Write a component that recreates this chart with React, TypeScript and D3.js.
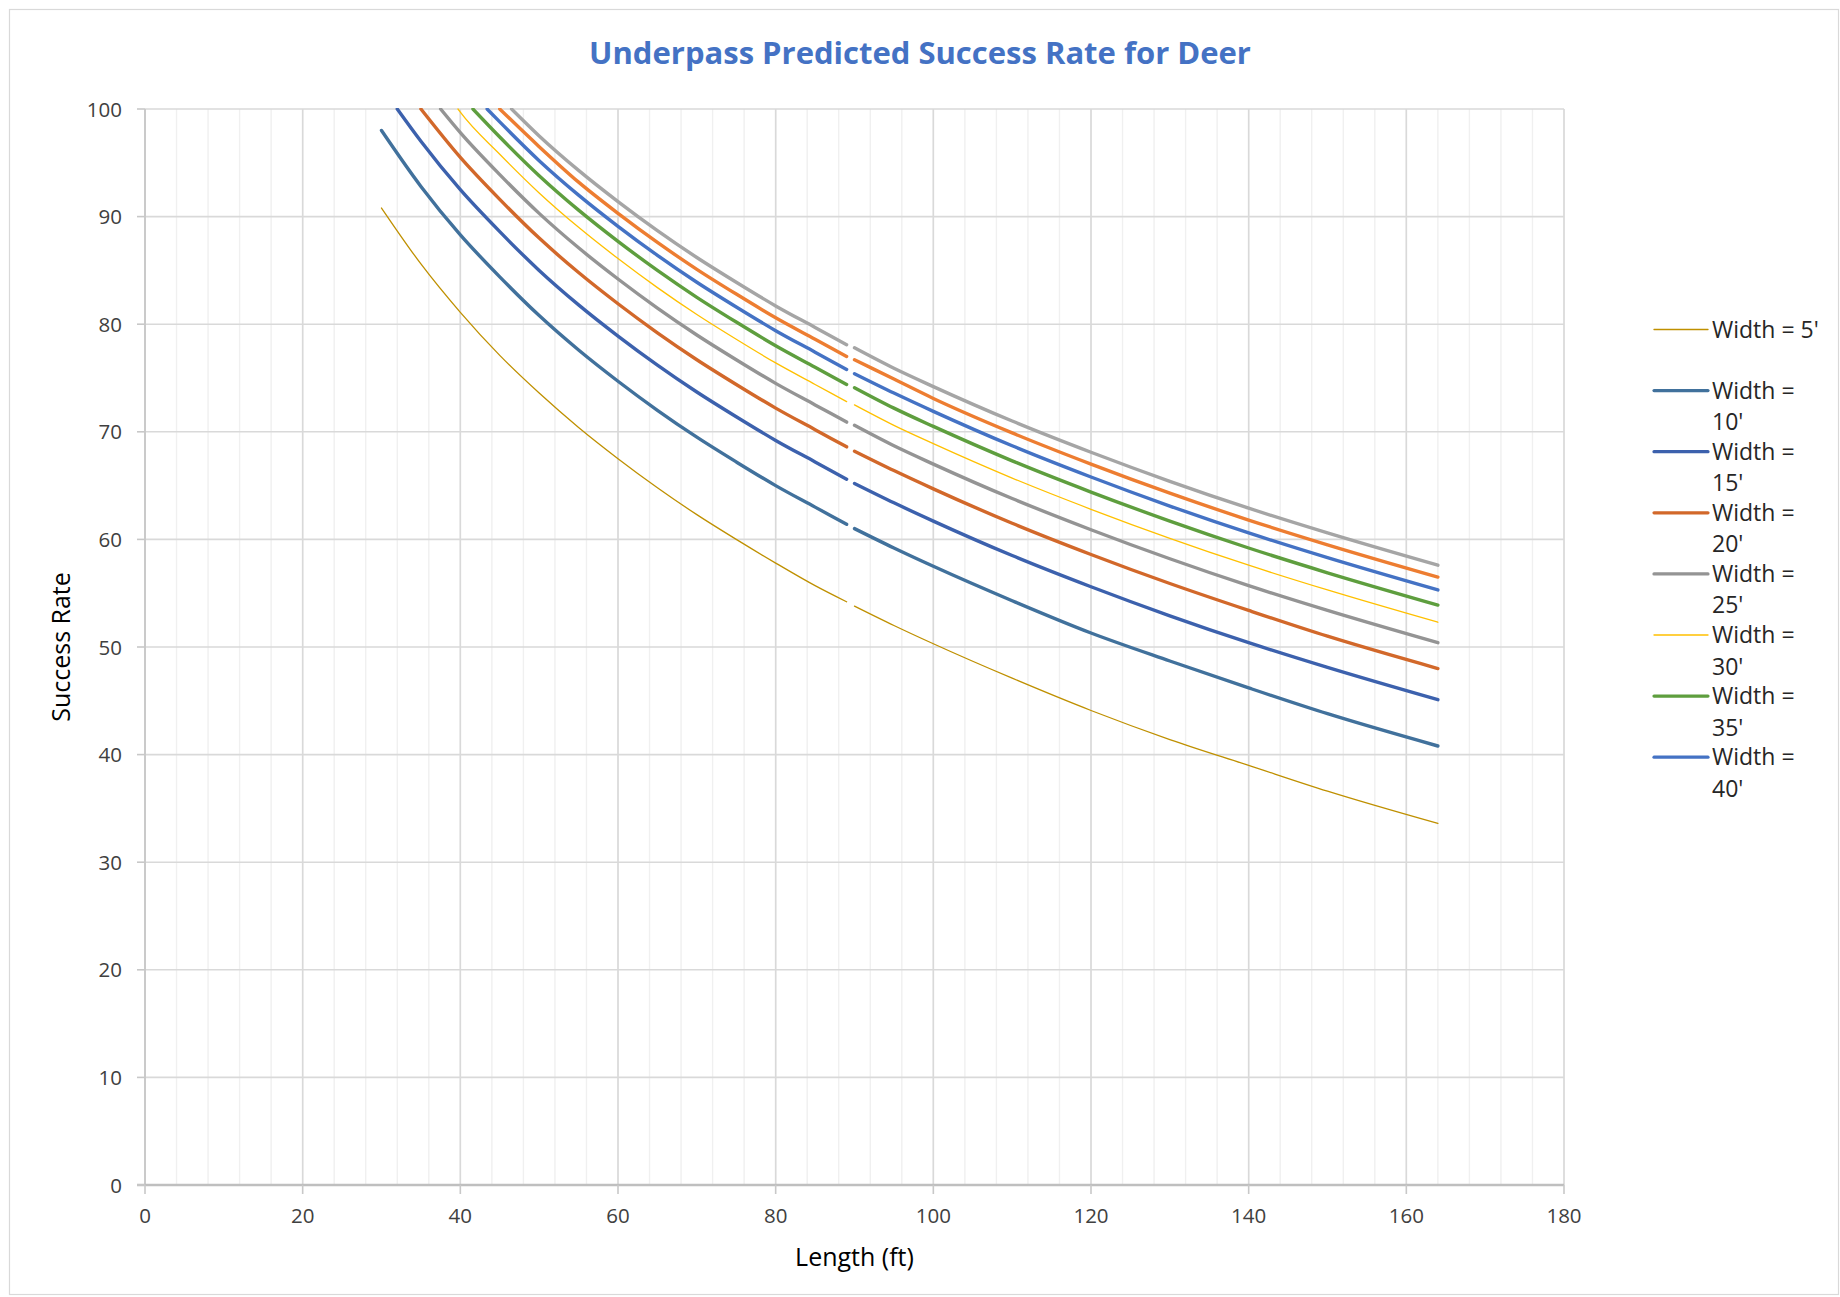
import React from "react";
import * as d3 from "d3";

// Underpass length (ft) sample points; the two runs are drawn as separate segments
const lengthsA = [30, 35, 40, 45, 50, 55, 60, 65, 70, 75, 80, 85, 89];
const lengthsB = [90, 95, 100, 110, 120, 130, 140, 150, 164];

// Underpass widths (ft), one curve each
const widths = [5, 10, 15, 20, 25, 30, 35, 40, 45, 50];

// Length at which a curve enters the plot through the 100 ceiling (null = starts inside)
const entryLengths = [null, null, 32.0, 35.0, 37.5, 39.7, 41.6, 43.4, 45.0, 46.5];

// Success rate (%) per width, first run (null = above 100, off the chart)
const rateA5 = [90.8, 85.6, 81.1, 77.1, 73.6, 70.4, 67.5, 64.8, 62.3, 60.0, 57.8, 55.7, 54.2];
const rateA10 = [98.0, 92.8, 88.3, 84.4, 80.8, 77.6, 74.7, 72.0, 69.5, 67.2, 65.0, 63.0, 61.4];
const rateA15 = [null, 97.0, 92.5, 88.6, 85.0, 81.8, 78.9, 76.2, 73.7, 71.4, 69.2, 67.2, 65.6];
const rateA20 = [null, null, 95.5, 91.6, 88.0, 84.8, 81.9, 79.2, 76.7, 74.4, 72.2, 70.2, 68.6];
const rateA25 = [null, null, 97.8, 93.9, 90.3, 87.1, 84.2, 81.5, 79.0, 76.7, 74.5, 72.5, 70.9];
const rateA30 = [null, null, 99.7, 95.8, 92.2, 89.0, 86.1, 83.4, 80.9, 78.6, 76.4, 74.4, 72.8];
const rateA35 = [null, null, null, 97.4, 93.8, 90.6, 87.7, 85.0, 82.5, 80.2, 78.0, 76.0, 74.4];
const rateA40 = [null, null, null, 98.8, 95.2, 92.0, 89.1, 86.4, 83.9, 81.6, 79.4, 77.4, 75.8];
const rateA45 = [null, null, null, null, 96.5, 93.2, 90.3, 87.6, 85.1, 82.8, 80.6, 78.6, 77.0];
const rateA50 = [null, null, null, null, 97.5, 94.3, 91.4, 88.7, 86.2, 83.9, 81.7, 79.7, 78.1];

// Success rate (%) per width, second run
const rateB5 = [53.8, 52.0, 50.3, 47.1, 44.1, 41.4, 39.0, 36.6, 33.6];
const rateB10 = [61.0, 59.2, 57.5, 54.3, 51.3, 48.7, 46.2, 43.8, 40.8];
const rateB15 = [65.2, 63.4, 61.7, 58.5, 55.6, 52.9, 50.4, 48.1, 45.1];
const rateB20 = [68.2, 66.4, 64.7, 61.5, 58.6, 55.9, 53.4, 51.0, 48.0];
const rateB25 = [70.6, 68.7, 67.0, 63.8, 60.9, 58.2, 55.7, 53.4, 50.4];
const rateB30 = [72.5, 70.6, 68.9, 65.7, 62.8, 60.1, 57.6, 55.3, 52.3];
const rateB35 = [74.1, 72.2, 70.5, 67.3, 64.4, 61.7, 59.2, 56.9, 53.9];
const rateB40 = [75.4, 73.6, 71.9, 68.7, 65.8, 63.1, 60.6, 58.3, 55.3];
const rateB45 = [76.7, 74.9, 73.1, 69.9, 67.0, 64.3, 61.8, 59.5, 56.5];
const rateB50 = [77.8, 75.9, 74.2, 71.0, 68.1, 65.4, 62.9, 60.6, 57.6];

const ratesA = [rateA5, rateA10, rateA15, rateA20, rateA25, rateA30, rateA35, rateA40, rateA45, rateA50];
const ratesB = [rateB5, rateB10, rateB15, rateB20, rateB25, rateB30, rateB35, rateB40, rateB45, rateB50];

const seriesColors = [
  "#BF9000", "#41719C", "#3C61AD", "#D2682A", "#949494",
  "#FFC000", "#5E9E3E", "#4472C4", "#ED7D31", "#A5A5A5",
];
const seriesWidths = [1.3, 3.4, 3.4, 3.4, 3.4, 1.3, 3.4, 3.4, 3.4, 3.4];

// Legend lists the first eight widths
const legendCount = 8;

const xTicks = [0, 20, 40, 60, 80, 100, 120, 140, 160, 180];
const yTicks = [0, 10, 20, 30, 40, 50, 60, 70, 80, 90, 100];

const W = 1840;
const H = 1297;
const plot = { left: 145, right: 1564, top: 109, bottom: 1185 };
const FONT = "'Open Sans', 'DejaVu Sans', sans-serif";

export default function App() {
  const x = d3.scaleLinear().domain([0, 180]).range([plot.left, plot.right]);
  const y = d3.scaleLinear().domain([0, 100]).range([plot.bottom, plot.top]);
  const line = d3
    .line<[number, number]>()
    .x((d) => x(d[0]))
    .y((d) => y(d[1]))
    .curve(d3.curveMonotoneX);

  const minorX = d3.range(0, 181, 4);

  const segmentsFor = (i: number) => {
    const a: [number, number][] = [];
    const entry = entryLengths[i];
    if (entry !== null) a.push([entry, 100]);
    lengthsA.forEach((L, k) => {
      const v = ratesA[i][k];
      if (v !== null && !(entry !== null && L <= entry)) a.push([L, v]);
    });
    const b: [number, number][] = lengthsB.map((L, k) => [L, ratesB[i][k]]);
    return [a, b];
  };

  const legendX1 = 1654;
  const legendX2 = 1708;
  const legendTextX = 1712;
  const legendTop = 329.5;
  const legendStep = 61.1;
  const lineGap = 31.5;

  return (
    <svg
      width={W}
      height={H}
      viewBox={`0 0 ${W} ${H}`}
      style={{ position: "absolute", left: 0, top: 0, background: "#fff" }}
      fontFamily={FONT}
    >
      <defs>
        <clipPath id="plot-clip">
          <rect
            x={plot.left}
            y={plot.top - 1}
            width={plot.right - plot.left}
            height={plot.bottom - plot.top + 1}
          />
        </clipPath>
      </defs>

      <rect x={0} y={0} width={W} height={H} fill="#fff" />
      <rect x={9.5} y={9.5} width={1829} height={1285} fill="none" stroke="#D9D9D9" strokeWidth={1.2} />

      <text
        x={920}
        y={64}
        textAnchor="middle"
        fontSize={31}
        fontWeight={700}
        fill="#4472C4"
      >
        Underpass Predicted Success Rate for Deer
      </text>

      {/* minor vertical grid */}
      {minorX.map((v) => (
        <line key={`mx${v}`} x1={x(v)} x2={x(v)} y1={plot.top} y2={plot.bottom} stroke="#F0F0F0" strokeWidth={1.4} />
      ))}
      {/* major vertical grid */}
      {xTicks.map((v) => (
        <line key={`gx${v}`} x1={x(v)} x2={x(v)} y1={plot.top} y2={plot.bottom} stroke="#D9D9D9" strokeWidth={1.6} />
      ))}
      {/* horizontal grid */}
      {yTicks.map((v) => (
        <line key={`gy${v}`} x1={plot.left} x2={plot.right} y1={y(v)} y2={y(v)} stroke="#D9D9D9" strokeWidth={1.6} />
      ))}

      {/* axes */}
      <line x1={plot.left} x2={plot.left} y1={plot.top} y2={plot.bottom} stroke="#C8C8C8" strokeWidth={1.8} />
      <line x1={plot.left - 8} x2={plot.right} y1={plot.bottom} y2={plot.bottom} stroke="#BFBFBF" strokeWidth={2.4} />
      {yTicks.map((v) => (
        <line key={`ty${v}`} x1={plot.left - 8} x2={plot.left} y1={y(v)} y2={y(v)} stroke="#C8C8C8" strokeWidth={1.6} />
      ))}
      {xTicks.map((v) => (
        <line key={`tx${v}`} x1={x(v)} x2={x(v)} y1={plot.bottom} y2={plot.bottom + 9} stroke="#C8C8C8" strokeWidth={1.6} />
      ))}

      {/* tick labels */}
      {yTicks.map((v) => (
        <text key={`ly${v}`} x={122} y={y(v) + 7.5} textAnchor="end" fontSize={20.5} fill="#404040">
          {v}
        </text>
      ))}
      {xTicks.map((v) => (
        <text key={`lx${v}`} x={x(v)} y={1223} textAnchor="middle" fontSize={20.5} fill="#404040">
          {v}
        </text>
      ))}

      {/* axis titles */}
      <text x={(plot.left + plot.right) / 2} y={1266} textAnchor="middle" fontSize={25} fill="#000">
        Length (ft)
      </text>
      <text
        transform={`translate(70, ${(plot.top + plot.bottom) / 2}) rotate(-90)`}
        textAnchor="middle"
        fontSize={25}
        fill="#000"
      >
        Success Rate
      </text>

      {/* series */}
      <g clipPath="url(#plot-clip)">
        {widths.map((w, i) =>
          segmentsFor(i).map((seg, j) => (
            <path
              key={`s${w}-${j}`}
              d={line(seg) ?? ""}
              fill="none"
              stroke={seriesColors[i]}
              strokeWidth={seriesWidths[i]}
              strokeLinecap="round"
              strokeLinejoin="round"
            />
          ))
        )}
      </g>

      {/* legend */}
      {widths.slice(0, legendCount).map((w, i) => {
        const cy = legendTop + i * legendStep;
        return (
          <g key={`lg${w}`}>
            <line
              x1={legendX1}
              x2={legendX2}
              y1={cy}
              y2={cy}
              stroke={seriesColors[i]}
              strokeWidth={seriesWidths[i] === 1.3 ? 1.3 : 3.2}
              strokeLinecap="round"
            />
            {i === 0 ? (
              <text x={legendTextX} y={cy + 8} fontSize={23} fill="#262626">
                {`Width = ${w}'`}
              </text>
            ) : (
              <text x={legendTextX} y={cy + 8} fontSize={23} fill="#262626">
                <tspan x={legendTextX}>Width =</tspan>
                <tspan x={legendTextX} dy={lineGap}>{`${w}'`}</tspan>
              </text>
            )}
          </g>
        );
      })}
    </svg>
  );
}
